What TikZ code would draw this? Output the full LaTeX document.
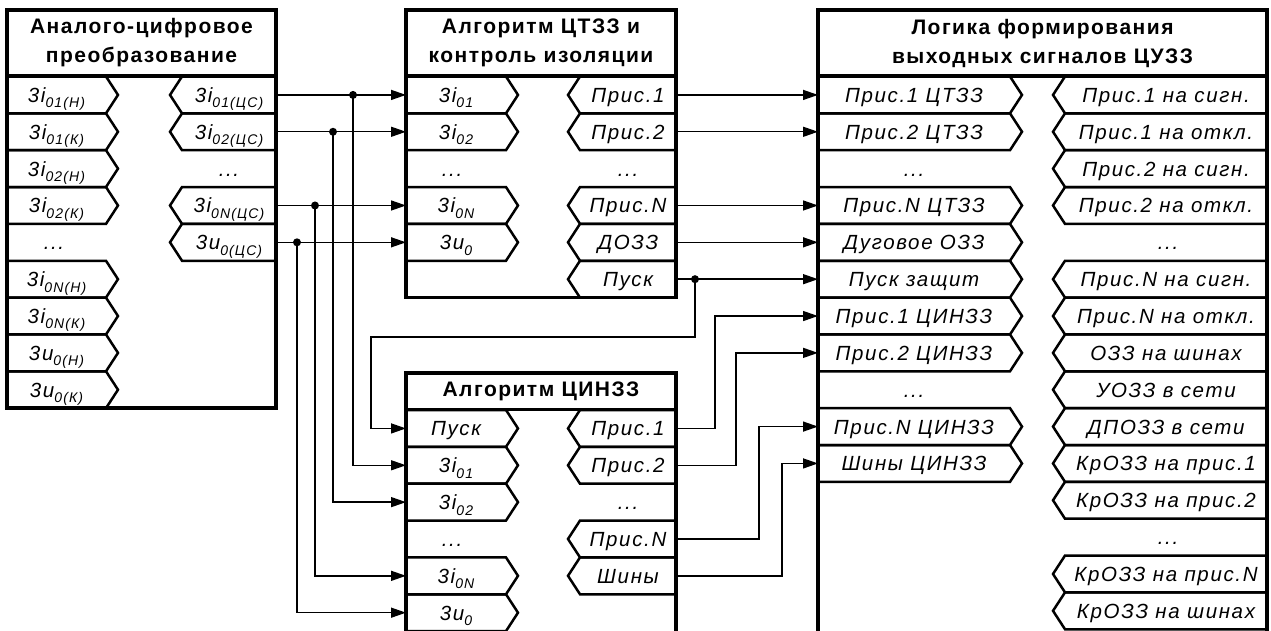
\documentclass[tikz,border=0pt]{standalone}
\usepackage{fontspec}
\setmainfont{Liberation Sans}
\newfontfamily\lblfont{Liberation Sans}[LetterSpace=8]
\newfontfamily\ttlfont{Liberation Sans}[LetterSpace=7]
\usetikzlibrary{arrows.meta}

\newcommand\rowh{36.85}
\newcommand\pd{12}
\newcommand\sbs[1]{\raisebox{-0.5ex}{\fontsize{14}{14}\selectfont #1}}

\tikzset{
 blockline/.style={line width=3.2pt},
 tagline/.style={line width=2.5pt, line join=miter},
 lbl/.style={font=\lblfont\itshape\fontsize{20.5}{24}\selectfont, inner sep=0pt, anchor=base},
 ttl/.style={font=\ttlfont\bfseries\fontsize{21}{29}\selectfont, align=center, inner sep=0pt},
 conn/.style={line width=1.4pt},
 arr/.style={-{Triangle[length=15pt,width=10pt]}},
 jdot/.style={circle, fill, inner sep=0pt, minimum size=8pt}
}

% left tag: #1 block left x, #2 rows start, #3 row, #4 corner offset, #5 name, #6 text
\newcommand\LTag[6]{%
  \pgfmathsetmacro\tyt{#2+(#3-1)*\rowh}%
  \draw[tagline] (#1,\tyt) -- ++(#4,0) -- ++(\pd,\rowh/2) -- ++(-\pd,\rowh/2) -- ++(-#4,0);
  \node[lbl] (#5) at ({#1+#4/2},{\tyt+\rowh/2+7.5}) {#6};
  \coordinate (#5-p) at (#1,{\tyt+\rowh/2});
}
% right tag: #1 block right x
\newcommand\RTag[6]{%
  \pgfmathsetmacro\tyt{#2+(#3-1)*\rowh}%
  \draw[tagline] (#1,\tyt) -- ++(-#4,0) -- ++(-\pd,\rowh/2) -- ++(\pd,\rowh/2) -- ++(#4,0);
  \node[lbl] (#5) at ({#1-#4/2},{\tyt+\rowh/2+7.5}) {#6};
  \coordinate (#5-p) at (#1,{\tyt+\rowh/2});
}
% dots: #1 center x, #2 rows start, #3 row, #4 name
\newcommand\DTag[4]{%
  \node[lbl] (#4) at (#1,{#2+(#3-0.5)*\rowh+7.5}) {...};
}

\begin{document}
\begin{tikzpicture}[x=1pt,y=-1pt]
\useasboundingbox (0,0) rectangle (1271,630);
\clip (0,0) rectangle (1271,630);

%================ Block A
\draw[blockline] (7,10) rectangle (276,408);
\draw[blockline] (7,76) -- (276,76);
\node[ttl] (Attl) at (141.5,43) {Аналого-цифровое\\преобразование};
\def\ra{76.5}
\LTag{7}{\ra}{1}{99}{Ai1}{3\textit{i}\sbs{01(Н)}}
\LTag{7}{\ra}{2}{99}{Ai2}{3\textit{i}\sbs{01(К)}}
\LTag{7}{\ra}{3}{99}{Ai3}{3\textit{i}\sbs{02(Н)}}
\LTag{7}{\ra}{4}{99}{Ai4}{3\textit{i}\sbs{02(К)}}
\DTag{54}{\ra}{5}{Ai5}
\LTag{7}{\ra}{6}{99}{Ai6}{3\textit{i}\sbs{0N(Н)}}
\LTag{7}{\ra}{7}{99}{Ai7}{3\textit{i}\sbs{0N(К)}}
\LTag{7}{\ra}{8}{99}{Ai8}{3\textit{u}\sbs{0(Н)}}
\LTag{7}{\ra}{9}{99}{Ai9}{3\textit{u}\sbs{0(К)}}
\RTag{276}{\ra}{1}{94}{Ao1}{3\textit{i}\sbs{01(ЦС)}}
\RTag{276}{\ra}{2}{94}{Ao2}{3\textit{i}\sbs{02(ЦС)}}
\DTag{229}{\ra}{3}{Ao3}
\RTag{276}{\ra}{4}{94}{Ao4}{3\textit{i}\sbs{0N(ЦС)}}
\RTag{276}{\ra}{5}{94}{Ao5}{3\textit{u}\sbs{0(ЦС)}}

%================ Block B
\draw[blockline] (406,10) rectangle (676,297.6);
\draw[blockline] (406,76) -- (676,76);
\node[ttl] (Bttl) at (541,43) {Алгоритм ЦТЗЗ и\\контроль изоляции};
\LTag{406}{\ra}{1}{100}{Bi1}{3\textit{i}\sbs{01}}
\LTag{406}{\ra}{2}{100}{Bi2}{3\textit{i}\sbs{02}}
\DTag{452}{\ra}{3}{Bi3}
\LTag{406}{\ra}{4}{100}{Bi4}{3\textit{i}\sbs{0N}}
\LTag{406}{\ra}{5}{100}{Bi5}{3\textit{u}\sbs{0}}
\RTag{676}{\ra}{1}{96}{Bo1}{Прис.1}
\RTag{676}{\ra}{2}{96}{Bo2}{Прис.2}
\DTag{628}{\ra}{3}{Bo3}
\RTag{676}{\ra}{4}{96}{Bo4}{Прис.N}
\RTag{676}{\ra}{5}{96}{Bo5}{ДОЗЗ}
\RTag{676}{\ra}{6}{96}{Bo6}{Пуск}

%================ Block C
\def\rc{410}
\draw[blockline] (406,373) rectangle (676,700);
\draw[blockline] (406,409.5) -- (676,409.5);
\node[ttl] (Cttl) at (541,391.5) {Алгоритм ЦИНЗЗ};
\LTag{406}{\rc}{1}{100}{Ci1}{Пуск}
\LTag{406}{\rc}{2}{100}{Ci2}{3\textit{i}\sbs{01}}
\LTag{406}{\rc}{3}{100}{Ci3}{3\textit{i}\sbs{02}}
\DTag{452}{\rc}{4}{Ci4}
\LTag{406}{\rc}{5}{100}{Ci5}{3\textit{i}\sbs{0N}}
\LTag{406}{\rc}{6}{100}{Ci6}{3\textit{u}\sbs{0}}
\RTag{676}{\rc}{1}{96}{Co1}{Прис.1}
\RTag{676}{\rc}{2}{96}{Co2}{Прис.2}
\DTag{628}{\rc}{3}{Co3}
\RTag{676}{\rc}{4}{96}{Co4}{Прис.N}
\RTag{676}{\rc}{5}{96}{Co5}{Шины}

%================ Block D
\draw[blockline] (818,10) rectangle (1267,700);
\draw[blockline] (818,76) -- (1267,76);
\node[ttl] (Dttl) at (1042.5,43) {Логика формирования\\выходных сигналов ЦУЗЗ};
\LTag{818}{\ra}{1}{192}{Di1}{Прис.1 ЦТЗЗ}
\LTag{818}{\ra}{2}{192}{Di2}{Прис.2 ЦТЗЗ}
\DTag{914}{\ra}{3}{Di3}
\LTag{818}{\ra}{4}{192}{Di4}{Прис.N ЦТЗЗ}
\LTag{818}{\ra}{5}{192}{Di5}{Дуговое ОЗЗ}
\LTag{818}{\ra}{6}{192}{Di6}{Пуск защит}
\LTag{818}{\ra}{7}{192}{Di7}{Прис.1 ЦИНЗЗ}
\LTag{818}{\ra}{8}{192}{Di8}{Прис.2 ЦИНЗЗ}
\DTag{914}{\ra}{9}{Di9}
\LTag{818}{\ra}{10}{192}{Di10}{Прис.N ЦИНЗЗ}
\LTag{818}{\ra}{11}{192}{Di11}{Шины ЦИНЗЗ}
\RTag{1267}{\ra}{1}{202}{Do1}{Прис.1 на сигн.}
\RTag{1267}{\ra}{2}{202}{Do2}{Прис.1 на откл.}
\RTag{1267}{\ra}{3}{202}{Do3}{Прис.2 на сигн.}
\RTag{1267}{\ra}{4}{202}{Do4}{Прис.2 на откл.}
\DTag{1168}{\ra}{5}{Do5}
\RTag{1267}{\ra}{6}{202}{Do6}{Прис.N на сигн.}
\RTag{1267}{\ra}{7}{202}{Do7}{Прис.N на откл.}
\RTag{1267}{\ra}{8}{202}{Do8}{ОЗЗ на шинах}
\RTag{1267}{\ra}{9}{202}{Do9}{УОЗЗ в сети}
\RTag{1267}{\ra}{10}{202}{Do10}{ДПОЗЗ в сети}
\RTag{1267}{\ra}{11}{202}{Do11}{КрОЗЗ на прис.1}
\RTag{1267}{\ra}{12}{202}{Do12}{КрОЗЗ на прис.2}
\DTag{1168}{\ra}{13}{Do13}
\RTag{1267}{\ra}{14}{202}{Do14}{КрОЗЗ на прис.N}
\RTag{1267}{\ra}{15}{202}{Do15}{КрОЗЗ на шинах}

%================ Connectors A -> B, A -> C
\draw[conn,arr] (Ao1-p) -- (Bi1-p);
\draw[conn,arr] (Ao2-p) -- (Bi2-p);
\draw[conn,arr] (Ao4-p) -- (Bi4-p);
\draw[conn,arr] (Ao5-p) -- (Bi5-p);
\path (Ao1-p) ++(77,0) coordinate (j1);
\path (Ao2-p) ++(57,0) coordinate (j2);
\path (Ao4-p) ++(39,0) coordinate (j4);
\path (Ao5-p) ++(21,0) coordinate (j5);
\draw[conn,arr] (j1) |- (Ci2-p);
\draw[conn,arr] (j2) |- (Ci3-p);
\draw[conn,arr] (j4) |- (Ci5-p);
\draw[conn,arr] (j5) |- (Ci6-p);
\node[jdot] (d1) at (j1) {};
\node[jdot] (d2) at (j2) {};
\node[jdot] (d4) at (j4) {};
\node[jdot] (d5) at (j5) {};

%================ Connectors B -> D
\draw[conn,arr] (Bo1-p) -- (Di1-p);
\draw[conn,arr] (Bo2-p) -- (Di2-p);
\draw[conn,arr] (Bo4-p) -- (Di4-p);
\draw[conn,arr] (Bo5-p) -- (Di5-p);
\draw[conn,arr] (Bo6-p) -- (Di6-p);
\path (Bo6-p) ++(19,0) coordinate (jp);
\coordinate (k1) at (695,337);
\coordinate (k2) at (371,337);
\draw[conn,arr] (jp) -- (k1) -- (k2) |- (Ci1-p);
\node[jdot] (dp) at (jp) {};

%================ Connectors C -> D
\coordinate (b1) at (715,0);
\coordinate (b2) at (736,0);
\coordinate (b3) at (759,0);
\coordinate (b4) at (782,0);
\draw[conn,arr] (Co1-p) -- (Co1-p -| b1) |- (Di7-p);
\draw[conn,arr] (Co2-p) -- (Co2-p -| b2) |- (Di8-p);
\draw[conn,arr] (Co4-p) -- (Co4-p -| b3) |- (Di10-p);
\draw[conn,arr] (Co5-p) -- (Co5-p -| b4) |- (Di11-p);
\end{tikzpicture}
\end{document}
